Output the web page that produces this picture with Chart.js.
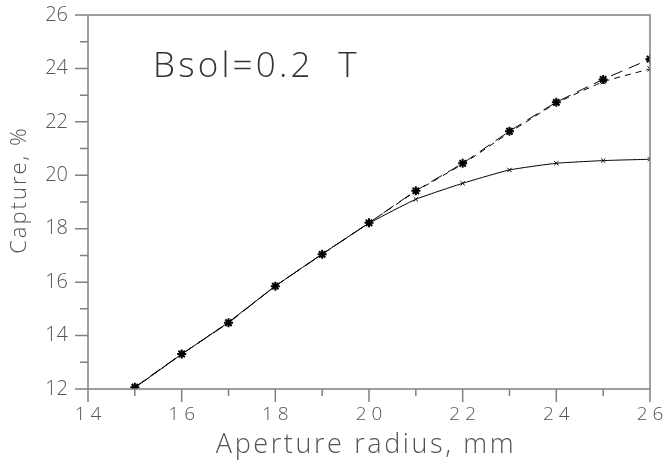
<!DOCTYPE html>
<html>
<head>
<meta charset="utf-8">
<script src="https://cdn.jsdelivr.net/npm/chart.js@4"></script>
<style>
  html, body { margin: 0; padding: 0; background: #fff; }
</style>
</head>
<body>
<canvas id="myChart" width="663" height="465"></canvas>
<script>
// aperture radius, mm
const radius = [15, 16, 17, 18, 19, 20, 21, 22, 23, 24, 25, 26];
// capture, %
const captureSolid = [12.05, 13.3, 14.5, 15.85, 17.05, 18.2, 19.1, 19.7, 20.2, 20.45, 20.55, 20.6];
const captureDash = [12.07, 13.31, 14.48, 15.85, 17.04, 18.22, 19.42, 20.45, 21.65, 22.73, 23.59, 24.35];
const captureShort = [12.05, 13.3, 14.5, 15.85, 17.05, 18.22, 19.4, 20.42, 21.6, 22.7, 23.5, 23.98];

const xTicks = [14, 16, 18, 20, 22, 24, 26];
const yTicks = [12, 14, 16, 18, 20, 22, 24, 26];
const xTitle = "Aperture radius, mm";
const yTitle = "Capture, %";
const noteText = "Bsol=0.2  T";

const fontFamily = "'Open Sans', 'DejaVu Sans', sans-serif";
const textColor = "#555";
const axisColor = "#808080";

function toPoints(ys){
	let pts = [];
	for(let i = 0; i < radius.length; i++){
		pts.push({x: radius[i], y: ys[i]});
	}
	return pts;
}

// box, tick marks, axis titles and the note
const framePlugin = {
	id: "frame",
	afterDraw(chart){
		const ctx = chart.ctx;
		const a = chart.chartArea;
		const xs = chart.scales.x;
		const ys = chart.scales.y;
		ctx.save();
		ctx.strokeStyle = axisColor;
		ctx.lineWidth = 1.5;
		ctx.beginPath();
		ctx.moveTo(a.left, a.top);
		ctx.lineTo(a.left, a.bottom);
		ctx.moveTo(a.left, a.bottom);
		ctx.lineTo(a.right, a.bottom);
		ctx.moveTo(a.left - 13, a.top);
		ctx.lineTo(a.right, a.top);
		ctx.lineTo(a.right, a.bottom);
		for(let v = xs.min; v <= xs.max; v++){
			let px = xs.getPixelForValue(v);
			let len = xTicks.includes(v) ? 13 : 7;
			ctx.moveTo(px, a.bottom);
			ctx.lineTo(px, a.bottom + len);
		}
		for(let v = ys.min; v <= ys.max; v++){
			let py = ys.getPixelForValue(v);
			let len = yTicks.includes(v) ? 13 : 8;
			ctx.moveTo(a.left - len, py);
			ctx.lineTo(a.left, py);
		}
		ctx.stroke();

		// x title
		ctx.fillStyle = textColor;
		ctx.textBaseline = "alphabetic";
		ctx.textAlign = "center";
		ctx.font = "300 27px " + fontFamily;
		ctx.letterSpacing = "2.6px";
		ctx.fillText(xTitle, (a.left + a.right) / 2 - 3, 453);

		// y title
		ctx.save();
		ctx.translate(26, (a.top + a.bottom) / 2 - 12);
		ctx.rotate(-Math.PI / 2);
		ctx.font = "300 22px " + fontFamily;
		ctx.letterSpacing = "2px";
		ctx.fillText(yTitle, 0, 0);
		ctx.restore();

		// note
		ctx.fillStyle = "#333";
		ctx.textAlign = "left";
		ctx.font = "300 35px " + fontFamily;
		ctx.letterSpacing = "3.2px";
		ctx.fillText(noteText, xs.getPixelForValue(15.39), ys.getPixelForValue(23.68));
		ctx.restore();
	}
};

const data = {
	datasets: [
		{
			data: toPoints(captureShort),
			borderColor: "#000",
			borderWidth: 1,
			borderDash: [6, 5],
			pointStyle: "crossRot",
			pointRadius: 3.5,
			pointBorderColor: "#000",
			pointBorderWidth: 1
		},
		{
			data: toPoints(captureDash),
			borderColor: "#000",
			borderWidth: 1,
			borderDash: [12, 7],
			pointStyle: "star",
			pointRadius: 4.5,
			pointBorderColor: "#000",
			pointBorderWidth: 2
		},
		{
			data: toPoints(captureSolid),
			borderColor: "#000",
			borderWidth: 1,
			pointStyle: "crossRot",
			pointRadius: 3,
			pointBorderColor: "#000",
			pointBorderWidth: 1
		}
	]
};

const options = {
	responsive: false,
	animation: false,
	devicePixelRatio: 1,
	layout: { padding: { top: 15, right: 13, left: 0, bottom: 0 } },
	plugins: { legend: { display: false }, tooltip: { enabled: false } },
	elements: { line: { tension: 0.15, fill: false } },
	scales: {
		x: {
			type: "linear",
			min: 14,
			max: 26,
			afterFit(scale){
				scale.height = 76;
				scale.paddingLeft = 0;
				scale.paddingRight = 0;
			},
			border: { display: false },
			grid: { display: true, drawOnChartArea: false, drawTicks: false },
			ticks: {
				stepSize: 1,
				autoSkip: false,
				maxRotation: 0,
				padding: 14,
				color: textColor,
				font: { family: fontFamily, size: 19, weight: 300 },
				callback: function(v){ return xTicks.includes(v) ? String(v).split("").join(" ") : ""; }
			}
		},
		y: {
			type: "linear",
			min: 12,
			max: 26,
			afterFit(scale){
				scale.width = 88;
				scale.paddingTop = 0;
				scale.paddingBottom = 0;
			},
			border: { display: false },
			grid: { display: true, drawOnChartArea: false, drawTicks: false },
			ticks: {
				stepSize: 1,
				autoSkip: false,
				padding: 20,
				color: textColor,
				font: { family: fontFamily, size: 20, weight: 300 },
				callback: function(v){ return yTicks.includes(v) ? String(v) : ""; }
			}
		}
	}
};

const ctx = document.getElementById("myChart").getContext("2d");
const myChart = new Chart(ctx, { type: "line", data: data, options: options, plugins: [framePlugin] });
</script>
</body>
</html>
